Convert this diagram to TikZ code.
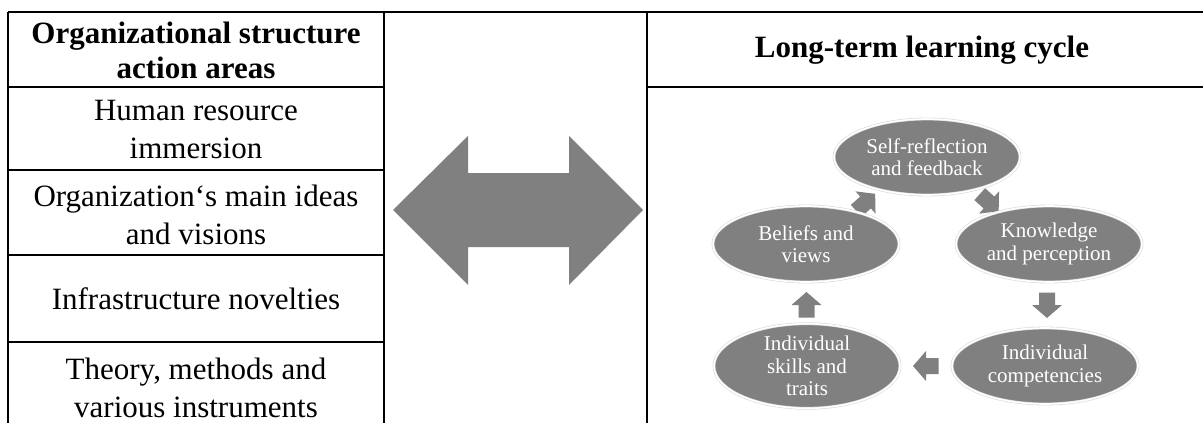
\documentclass[tikz,border=0pt]{standalone}
\usepackage{fontspec}
\setmainfont{Liberation Serif}
\usetikzlibrary{shapes.geometric,calc}
\definecolor{boxgray}{HTML}{808080}
\definecolor{rimgray}{HTML}{D9D9D9}
\begin{document}
\begin{tikzpicture}[x=1pt,y=-1pt,
  rule/.style={line width=1.3pt,black},
  headtxt/.style={font=\bfseries\fontsize{31}{35}\selectfont,align=center,inner sep=0pt},
  celltxt/.style={font=\fontsize{31}{38}\selectfont,align=center,inner sep=0pt},
  bubble/.style={ellipse,fill=boxgray,draw=rimgray,line width=0.6pt,double=white,double distance=1.6pt,
    minimum width=186pt,minimum height=76pt,inner sep=0pt,text=white,
    font=\fontsize{21}{22.5}\selectfont,align=center},
  cyc/.pic={\fill[boxgray] (-12.5,-8) -- (0,-8) -- (0,-15) -- (13,0) -- (0,15) -- (0,8) -- (-12.5,8) -- cycle;}
]
\useasboundingbox (0,0) rectangle (1203,423);
% table rules
\draw[rule] (8,12) -- (1203,12);
\draw[rule] (8,87) -- (384,87);
\draw[rule] (647,87) -- (1203,87);
\draw[rule] (8,170) -- (384,170);
\draw[rule] (8,255) -- (384,255);
\draw[rule] (8,342) -- (384,342);
\draw[rule] (8,12) -- (8,423);
\draw[rule] (384,12) -- (384,423);
\draw[rule] (647,12) -- (647,423);
% left column texts
\node[headtxt] (h1) at (196,50) {Organizational structure\\action areas};
\node[celltxt] (r1) at (196,130) {Human resource\\immersion};
\node[celltxt] (r2) at (196,215) {Organization\symbol{96}s main ideas\\and visions};
\node[celltxt] (r3) at (196,299) {Infrastructure novelties};
\node[celltxt] (r4) at (196,388) {Theory, methods and\\various instruments};
% right header
\node[headtxt] (h2) at (922,50) {Long-term learning cycle};
% big double arrow
\fill[boxgray] (393,210) -- (468,136) -- (468,173) -- (569,173) -- (569,136) -- (643,210)
  -- (569,285) -- (569,247) -- (468,247) -- (468,285) -- cycle;
% cycle node positions
\coordinate (pself) at (927,157);
\coordinate (pbel) at (806,244);
\coordinate (pknow) at (1049,244);
\coordinate (pskill) at (807,366);
\coordinate (pcomp) at (1045,366);
% small cycle arrows (behind bubbles)
\pic[rotate=42] at ($(pbel)!0.5!(pself)+(-1,2)$) {cyc};
\pic[rotate=-42] at ($(pself)!0.5!(pknow)+(1,2)$) {cyc};
\pic[rotate=-90] at ($(pknow)!0.5!(pcomp)$) {cyc};
\pic[rotate=180] at ($(pcomp)!0.5!(pskill)$) {cyc};
\pic[rotate=90] at ($(pskill)!0.5!(pbel)$) {cyc};
% bubbles
\node[bubble] (self) at (pself) {Self-reflection\\and feedback};
\node[bubble] (bel) at (pbel) {Beliefs and\\views};
\node[bubble] (know) at (pknow) {Knowledge\\and perception};
\node[bubble] (skill) at (pskill) {Individual\\skills and\\traits};
\node[bubble] (comp) at (pcomp) {Individual\\competencies};
\end{tikzpicture}
\end{document}
